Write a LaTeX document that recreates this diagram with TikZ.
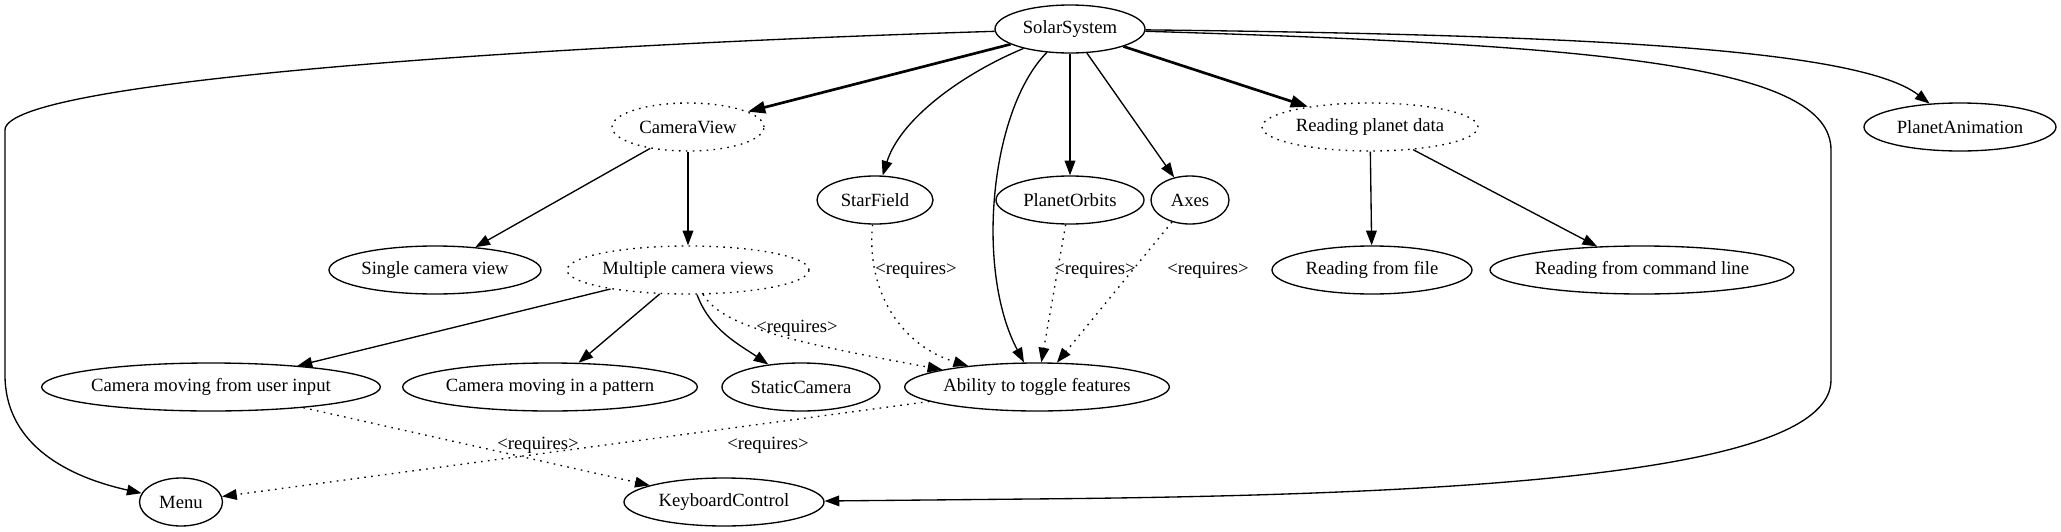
\documentclass[tikz,border=0pt]{standalone}
\usepackage{fontspec}
\setmainfont{Liberation Serif}
\usetikzlibrary{arrows.meta, shapes.geometric}

\begin{document}
\begin{tikzpicture}[x=0.75pt, y=-0.75pt, >={Triangle[length=11pt, width=8pt]},
    every node/.style={font=\fontsize{14}{17}\selectfont},
    feature/.style={ellipse, draw, line width=1pt, inner sep=0pt, minimum height=36pt, minimum width=0.75pt*#1},
    optional/.style={feature=#1, dash pattern=on 1.2pt off 4pt},
    link/.style={->, line width=1pt},
    strong/.style={-{Triangle[length=13pt, width=9pt]}, line width=2pt},
    needs/.style={->, line width=1pt, dash pattern=on 1.2pt off 4pt},
    tag/.style={inner sep=1pt}]
    \useasboundingbox (0,0) rectangle (2061,532);

    % Root
    \node[feature=150] (solar) at (1070,29) {SolarSystem};

    % First level
    \node[optional=152] (camview) at (688,127) {CameraView};
    \node[optional=216] (planetdata) at (1370,127) {Reading planet data};
    \node[feature=192] (animation) at (1960,127) {PlanetAnimation};
    \node[feature=116] (starfield) at (875,200) {StarField};
    \node[feature=148] (orbits) at (1070,200) {PlanetOrbits};
    \node[feature=78] (axes) at (1190,200) {Axes};

    % Second level
    \node[feature=212] (single) at (435,270) {Single camera view};
    \node[optional=242] (multiple) at (688,270) {Multiple camera views};
    \node[feature=200] (fromfile) at (1372,270) {Reading from file};
    \node[feature=304] (cmdline) at (1642,270) {Reading from command line};

    % Third level
    \node[feature=338] (userinput) at (211,387) {Camera moving from user input};
    \node[feature=294] (pattern) at (550,387) {Camera moving in a pattern};
    \node[feature=158] (static) at (801,387) {StaticCamera};
    \node[feature=264] (toggle) at (1037,387) {Ability to toggle features};

    % Bottom
    \node[feature=83] (menu) at (181,502) {Menu};
    \node[feature=200] (keyboard) at (724,502) {KeyboardControl};

    % Edges out of the root
    \draw[strong] (solar) -- (camview);
    \draw[strong] (solar) -- (planetdata);
    \draw[link] (solar) .. controls (960,75) and (900,120) .. (starfield);
    \draw[link] (solar) -- (orbits);
    \draw[link] (solar) -- (axes);
    \draw[link] (solar) .. controls (990,110) and (975,270) .. (toggle);
    \draw[link] (solar) .. controls (1600,35) and (1860,50) .. (animation);
    \draw[link] (solar) .. controls (1600,45) and (1831,65) .. (1831,150) -- (1831,380)
        .. controls (1831,470) and (1500,495) .. (1030,499) -- (keyboard);
    \draw[link] (solar) .. controls (550,45) and (5,80) .. (5,130) -- (5,375)
        .. controls (5,440) and (60,475) .. (menu);

    % Sub features
    \draw[link] (camview) -- (single);
    \draw[link] (camview) -- (multiple);
    \draw[link] (planetdata) -- (fromfile);
    \draw[link] (planetdata) -- (cmdline);
    \draw[link] (multiple) -- (userinput);
    \draw[link] (multiple) -- (pattern);
    \draw[link] (multiple) .. controls (710,330) and (740,345) .. (static);

    % Requirements (dotted)
    \draw[needs] (multiple) .. controls (722,325) and (780,340) .. (toggle)
        node[tag] at (797,328) {<requires>};
    \draw[needs] (starfield) .. controls (866,290) and (900,345) .. (toggle)
        node[tag] at (916,270) {<requires>};
    \draw[needs] (orbits) -- (toggle) node[tag] at (1095,270) {<requires>};
    \draw[needs] (axes) -- (toggle) node[tag] at (1208,270) {<requires>};
    \draw[needs] (userinput) -- (keyboard) node[tag] at (538,445) {<requires>};
    \draw[needs] (toggle) -- (menu) node[tag] at (768,445) {<requires>};
\end{tikzpicture}
\end{document}
